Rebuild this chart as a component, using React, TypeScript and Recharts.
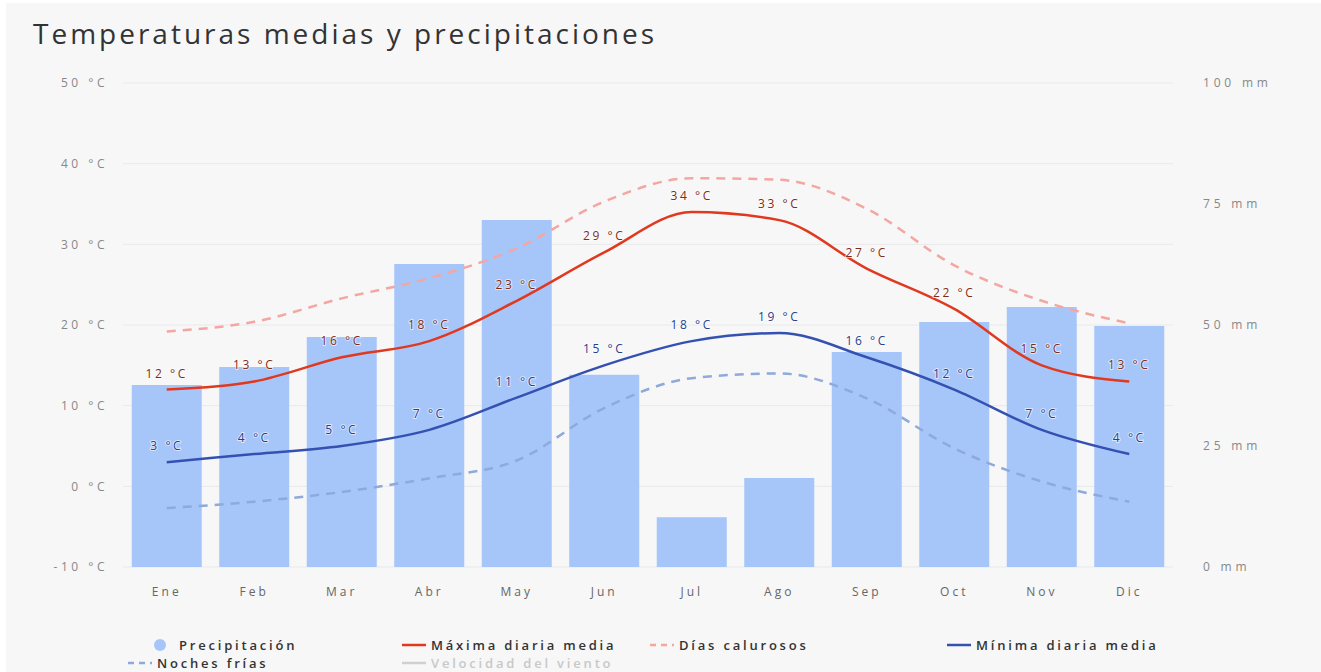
import { ComposedChart, Bar, Line, XAxis, YAxis, CartesianGrid, LabelList } from 'recharts';

const months = ['Ene', 'Feb', 'Mar', 'Abr', 'May', 'Jun', 'Jul', 'Ago', 'Sep', 'Oct', 'Nov', 'Dic'];
const precipitation = [37.6, 41.3, 47.5, 62.6, 71.7, 39.7, 10.3, 18.4, 44.4, 50.6, 53.7, 49.8];
const maxTemp = [12, 13, 16, 18, 23, 29, 34, 33, 27, 22, 15, 13];
const minTemp = [3, 4, 5, 7, 11, 15, 18, 19, 16, 12, 7, 4];
const hotDays = [19.2, 20.4, 23.3, 25.8, 29.5, 35.3, 38.2, 38, 34.4, 27.4, 23, 20.2];
const coldNights = [-2.7, -1.9, -0.7, 1, 3.2, 9.7, 13.4, 14, 10.9, 4.7, 0.6, -1.9];
const tempTicks = [-10, 0, 10, 20, 30, 40, 50];
const rainTicks = [0, 25, 50, 75, 100];

const data = months.map((m, i) => ({
  month: m,
  rain: precipitation[i],
  max: maxTemp[i],
  min: minTemp[i],
  hot: hotDays[i],
  cold: coldNights[i],
}));

const FONT = '"Open Sans", "DejaVu Sans", sans-serif';

type LegendItem = { name: string; kind: 'dot' | 'line' | 'dash'; color: string; text: string; left: number; top: number };

const legendItems: LegendItem[] = [
  { name: 'Precipitación', kind: 'dot', color: '#a6c6fa', text: '#333', left: 152, top: 637 },
  { name: 'Máxima diaria media', kind: 'line', color: '#e0391f', text: '#333', left: 400, top: 637 },
  { name: 'Días calurosos', kind: 'dash', color: '#f4a6a0', text: '#333', left: 648, top: 637 },
  { name: 'Mínima diaria media', kind: 'line', color: '#3451b2', text: '#333', left: 945, top: 637 },
  { name: 'Noches frías', kind: 'dash', color: '#8fa9db', text: '#333', left: 126, top: 655 },
  { name: 'Velocidad del viento', kind: 'line', color: '#d0d0d0', text: '#c8c8c8', left: 400, top: 655 },
];

function LegendSymbol({ item }: { item: LegendItem }) {
  if (item.kind === 'dot') {
    return (
      <svg width={24} height={14}>
        <circle cx={8} cy={7} r={6} fill={item.color} />
      </svg>
    );
  }
  return (
    <svg width={28} height={14}>
      <line
        x1={2}
        x2={26}
        y1={7}
        y2={7}
        stroke={item.color}
        strokeWidth={2.5}
        strokeDasharray={item.kind === 'dash' ? '6 5' : undefined}
      />
    </svg>
  );
}

const labelStyle = (fill: string) => ({
  fill,
  fontSize: 12,
  fontFamily: FONT,
  letterSpacing: 2.6,
  stroke: 'rgba(255,255,255,0.6)',
  strokeWidth: 2,
  paintOrder: 'stroke',
});

export default function App() {
  return (
    <div
      style={{
        position: 'fixed',
        inset: 0,
        background: '#ffffff',
        overflow: 'hidden',
        fontFamily: FONT,
      }}
    >
      <div style={{ position: 'absolute', left: 6, top: 3, right: 0, bottom: 0, background: '#f7f7f7' }} />
      <div
        style={{
          position: 'absolute',
          left: 33,
          top: 14,
          fontSize: 28,
          letterSpacing: 3,
          color: '#333',
          whiteSpace: 'nowrap',
        }}
      >
        Temperaturas medias y precipitaciones
      </div>
      <div style={{ position: 'absolute', left: 0, top: 0 }}>
        <ComposedChart
          width={1321}
          height={620}
          data={data}
          margin={{ top: 83, right: 0, left: 0, bottom: 23 }}
          barCategoryGap="10%"
        >
          <CartesianGrid vertical={false} yAxisId="temp" stroke="#e9e9e9" />
          <XAxis
            dataKey="month"
            axisLine={false}
            tickLine={false}
            tickSize={0}
            tickMargin={20}
            height={30}
            tick={{ fill: '#666', fontSize: 12, fontFamily: FONT, letterSpacing: 3 }}
          />
          <YAxis
            yAxisId="temp"
            orientation="left"
            width={123}
            domain={[-10, 50]}
            ticks={tempTicks}
            axisLine={false}
            tickLine={false}
            tickSize={0}
            tickMargin={15}
            tickFormatter={(v: number) => `${v} °C`}
            tick={{ fill: '#888', fontSize: 12, fontFamily: FONT, letterSpacing: 3.5 }}
          />
          <YAxis
            yAxisId="rain"
            orientation="right"
            width={148}
            domain={[0, 100]}
            ticks={rainTicks}
            axisLine={false}
            tickLine={false}
            tickSize={0}
            tickMargin={30}
            tickFormatter={(v: number) => `${v} mm`}
            tick={{ fill: '#888', fontSize: 12, fontFamily: FONT, textAnchor: 'start', letterSpacing: 3.8 }}
          />
          <Bar yAxisId="rain" dataKey="rain" fill="#a6c6fa" isAnimationActive={false} />
          <Line
            yAxisId="temp"
            type="monotone"
            dataKey="hot"
            stroke="#f4a6a0"
            strokeWidth={2.5}
            strokeDasharray="9 7"
            dot={false}
            activeDot={false}
            isAnimationActive={false}
          />
          <Line
            yAxisId="temp"
            type="monotone"
            dataKey="cold"
            stroke="#8fa9db"
            strokeWidth={2.5}
            strokeDasharray="9 7"
            dot={false}
            activeDot={false}
            isAnimationActive={false}
          />
          <Line
            yAxisId="temp"
            type="monotone"
            dataKey="max"
            stroke="#e0391f"
            strokeWidth={2.5}
            dot={false}
            activeDot={false}
            isAnimationActive={false}
          >
            <LabelList
              dataKey="max"
              position="top"
              offset={12}
              formatter={(v: number) => `${v} °C`}
              style={labelStyle('#7e2d17')}
            />
          </Line>
          <Line
            yAxisId="temp"
            type="monotone"
            dataKey="min"
            stroke="#3451b2"
            strokeWidth={2.5}
            dot={false}
            activeDot={false}
            isAnimationActive={false}
          >
            <LabelList
              dataKey="min"
              position="top"
              offset={12}
              formatter={(v: number) => `${v} °C`}
              style={labelStyle('#27408f')}
            />
          </Line>
        </ComposedChart>
      </div>
      {legendItems.map((item) => (
        <div
          key={item.name}
          style={{
            position: 'absolute',
            left: item.left,
            top: item.top,
            display: 'flex',
            alignItems: 'center',
            gap: 3,
            fontSize: 13,
            lineHeight: '16px',
            fontWeight: 600,
            letterSpacing: 2.8,
            color: item.text,
            whiteSpace: 'nowrap',
          }}
        >
          <LegendSymbol item={item} />
          <span>{item.name}</span>
        </div>
      ))}
    </div>
  );
}
